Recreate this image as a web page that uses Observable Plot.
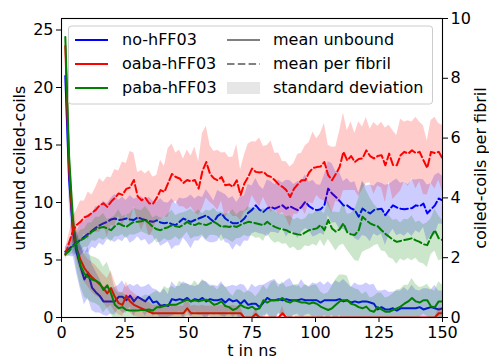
<!DOCTYPE html>
<html><head><meta charset="utf-8">
<script src="https://cdn.jsdelivr.net/npm/d3@7"></script>
<script src="https://cdn.jsdelivr.net/npm/@observablehq/plot@0.6"></script>
<style>
body{margin:0;background:#fff;}
#wrap{position:relative;width:489px;height:360px;font-family:"DejaVu Sans",sans-serif;}
#legend{position:absolute;left:0;top:0;pointer-events:none;}
</style></head><body><div id="wrap"></div>
<script>
// sample times (ns)
const times = d3.range(100).map(i => +(1.5 * (i + 1)).toFixed(1));
const systems = ["no-hFF03", "oaba-hFF03", "paba-hFF03"];
const colors = ["#0000ff", "#ff0000", "#008000"];
const xTicks = [0, 25, 50, 75, 100, 125, 150];
const leftTicks = [0, 5, 10, 15, 20, 25];
const rightTicks = [0, 2, 4, 6, 8, 10];
const leftMax = 26, rightMax = 10;

// unbound coiled-coils (left axis)
const noUnbound = [
21,12,7.5,5.6,4.4,3.3,3.9,2.6,2.2,1.9,
1.4,1.4,1.4,1.4,1.8,1.8,1.5,1.9,1.4,1.8,
1.6,1.4,1.8,1.3,1.4,1.0,1.1,1.0,1.6,1.5,
1.6,1.5,1.7,1.4,1.6,1.5,1.7,1.4,1.6,1.5,
1.5,1.6,1.3,1.6,1.4,1.5,1.2,1.5,1.1,1.2,
1.2,0.9,1.3,1.7,1.5,1.5,1.6,1.5,1.6,1.5,
1.5,1.5,1.6,1.5,1.5,1.5,1.5,1.3,1.5,1.5,
1.5,1.5,1.6,1.4,1.5,1.3,1.4,1.3,1.4,1.4,
1.3,1.2,0.7,0.9,0.7,0.7,0.8,0.6,0.8,0.8,
0.8,0.8,0.8,0.9,0.7,0.8,0.9,0.8,0.7,0.8];
const noUnboundSd = [
1.0,2.0,2.0,1.8,2.0,2.2,2.2,2.0,1.8,1.5,
1.2,1.3,1.1,1.2,1.0,1.4,1.1,1.0,1.3,1.1,
1.0,1.3,1.1,1.2,1.0,1.1,1.4,1.0,1.5,1.2,
1.1,1.6,1.2,1.4,1.1,1.3,1.5,1.7,1.2,1.3,
1.2,1.5,1.3,1.1,1.4,1.2,1.7,1.3,1.2,1.7,
1.4,1.9,1.5,1.3,1.7,1.8,1.3,1.4,1.6,1.9,
1.3,1.2,1.7,1.3,1.2,1.5,1.4,1.8,1.3,1.6,
1.3,1.7,1.4,1.9,1.5,1.3,1.6,1.5,1.4,1.6,
1.5,1.7,1.6,1.4,1.7,1.5,1.4,1.7,1.5,1.8,
1.5,2.0,1.6,1.4,1.8,1.7,1.5,2.0,1.6,1.5];
const oabaUnbound = [
23.6,13,7.8,6.0,5.0,4.3,3.85,3.5,3.2,2.9,
2.55,2.1,2.55,1.8,1.25,1.1,1.9,1.4,1.1,0.95,
0.8,0.65,0.5,0.37,0.37,0.37,0.37,0.37,0.37,0.37,
0.37,0.37,0.8,0.37,0.37,0.37,0.37,0.37,0.37,0.37,
0.37,0.37,0.37,0.37,0.37,0.37,0.37,0,0,0,
0.3,0,0,0,0,0,0,0.37,0,0,
0,0,0,0,0,0,0,0,0,0,
0,0,0,0,0,0,0,0,0,0,
0,0,0,0,0,0,0,0,0,0,
0,0,0,0,0,0,0,0,0.37,0.37];
const oabaUnboundSd = [
0.8,1.0,1.2,1.0,1.1,1.2,1.2,1.3,1.3,1.2,
1.2,1.3,1.5,1.3,1.0,1.0,1.2,1.0,1.0,0.9,
0.8,0.9,0.8,0.7,0.7,0.8,0.7,0.6,0.7,0.6,
0.6,0.6,0.9,0.6,0.7,0.6,0.7,0.6,0.6,0.6,
0.6,0.7,0.6,0.6,0.7,0.6,0.6,0,0,0,
0.5,0,0,0,0,0,0,0.6,0,0,
0,0,0,0,0,0,0,0,0,0,
0,0,0,0,0,0,0,0,0,0,
0,0,0,0,0,0,0,0,0,0,
0,0,0,0,0,0,0,0,0.5,0.5];
const pabaUnbound = [
24.4,14,8.5,6.0,4.5,3.8,3.5,3.3,3.2,3.0,
2.4,2.8,2.1,1.1,0.8,0.9,0.65,0.6,0.6,0.6,
0.65,0.65,0.7,0.6,0.9,0.9,1.0,1.1,1.1,1.1,
1.25,1.4,1.55,1.4,1.5,1.4,1.5,1.55,1.4,1.1,
1.2,1.4,1.0,0.9,0.65,0.8,1.1,0.9,0.8,0.95,
0.7,0.8,1.5,1.3,1.5,1.5,1.5,1.7,1.4,1.3,
1.5,1.4,1.3,1.3,1.2,1.3,1.2,0.95,0.8,0.65,
0.8,1.1,1.4,1.5,1.5,1.2,1.1,0.9,0.8,0.95,
0.6,0.5,0.9,0.7,0.5,0.5,0.65,0.8,0.95,1.2,
1.4,1.7,1.4,1.3,1.5,1.5,0.95,0.9,1.4,1.4];
const pabaUnboundSd = [
0.8,1.5,2.0,1.8,1.8,2.0,2.0,2.0,2.0,2.0,
2.0,2.0,1.8,1.4,1.3,1.3,1.2,1.1,1.2,1.1,
1.1,1.3,1.2,1.5,1.4,1.2,1.7,1.4,1.6,1.4,
1.9,1.5,1.4,1.3,1.7,1.4,1.8,1.5,1.3,1.6,
1.2,1.5,1.7,1.3,1.2,1.6,1.3,1.2,1.5,1.2,
1.1,1.4,1.3,1.1,1.5,1.7,1.1,1.4,1.2,1.4,
1.3,1.5,1.2,1.6,1.4,1.5,1.6,1.3,1.2,1.5,
1.9,2.2,2.3,2.2,2.1,1.5,1.4,1.5,1.2,1.3,
1.1,1.3,1.2,1.4,1.2,1.3,1.4,1.6,1.5,1.6,
1.4,1.7,1.5,1.3,1.2,1.4,1.5,1.4,1.7,1.4];

// coiled-coils per fibril (right axis)
const noFibril = [
2.2,2.3,2.42,2.5,2.6,2.7,2.8,2.9,3.0,3.08,
3.15,3.2,3.28,3.31,3.26,3.28,3.31,3.28,3.26,3.35,
3.3,3.26,3.22,3.2,3.25,3.18,3.15,3.18,3.12,3.09,
3.2,3.31,3.25,3.2,3.26,3.31,3.36,3.42,3.3,3.2,
3.4,3.48,3.31,3.22,3.15,3.15,3.2,3.31,3.5,3.6,
3.75,3.6,3.53,3.65,3.7,3.64,3.7,3.75,3.64,3.72,
3.65,3.59,3.7,3.87,3.72,3.64,3.59,3.62,3.75,4.31,
4.15,4.03,3.9,3.75,3.75,3.65,3.59,3.37,3.64,3.55,
3.48,3.59,3.62,3.64,3.42,3.6,3.75,3.68,3.64,3.62,
3.64,3.66,3.75,3.72,3.81,3.48,3.62,3.75,3.98,3.92];
const noFibrilSd = [
0.15,0.25,0.4,0.35,0.55,0.5,0.65,0.55,0.7,0.6,
0.75,0.6,0.7,0.8,0.65,0.75,0.6,0.8,0.7,0.65,
0.75,0.65,0.8,0.7,0.6,0.8,0.7,0.65,0.85,0.7,
0.8,0.65,0.75,0.9,0.7,0.75,0.65,0.85,0.8,0.7,
0.85,0.7,0.8,0.75,0.9,0.7,0.85,0.75,0.95,0.8,
0.9,0.8,0.75,0.95,0.85,0.8,0.9,0.75,0.95,0.85,
0.8,0.95,0.85,0.9,0.8,0.95,0.85,0.8,1.0,0.9,
1.0,0.85,0.95,0.8,0.9,0.85,0.95,0.8,0.9,0.85,
0.95,0.8,0.9,0.85,1.0,0.85,0.8,0.95,0.85,0.9,
0.8,0.95,0.85,0.9,0.8,0.95,0.85,1.0,0.85,0.8];
const oabaFibril = [
2.1,2.5,2.9,3.1,3.2,3.35,3.4,3.5,3.6,3.75,
3.82,3.7,3.87,4.0,4.15,4.1,4.3,4.35,4.6,4.05,
3.92,4.0,3.82,3.8,4.0,4.26,4.2,4.5,4.8,4.7,
4.65,4.5,4.6,4.55,4.6,4.31,4.9,5.2,4.8,4.65,
4.59,4.7,4.42,4.45,4.37,4.59,4.09,4.48,4.7,4.98,
4.87,4.85,4.87,4.75,4.7,4.59,4.45,4.37,4.26,4.03,
4.3,4.45,4.59,4.59,4.85,5.0,5.03,5.05,5.2,4.76,
4.59,4.8,5.03,5.54,5.25,5.4,5.2,5.3,5.32,5.59,
5.4,5.32,5.4,5.43,5.09,5.48,5.1,5.09,5.43,5.54,
5.48,5.59,5.5,5.54,5.26,5.0,5.54,5.5,5.54,5.32];
const oabaFibrilSd = [
0.15,0.3,0.45,0.5,0.7,0.55,0.8,0.6,0.75,0.9,
0.7,1.0,0.8,0.95,0.75,1.1,0.85,1.2,0.9,0.8,
1.0,0.8,1.1,0.9,0.75,1.0,0.85,1.15,1.0,0.8,
0.95,0.8,1.0,0.85,1.1,0.9,1.25,1.2,0.95,0.9,
1.0,0.8,1.1,0.9,1.0,1.2,0.85,0.95,1.1,0.9,
1.0,1.15,0.85,1.0,1.2,0.9,1.05,0.85,0.95,1.0,
0.85,1.0,0.9,1.15,1.0,1.2,0.95,1.1,1.3,1.0,
1.1,0.9,1.2,1.3,1.0,1.15,0.95,1.25,1.05,1.1,
0.9,1.2,1.0,1.1,1.25,0.95,1.15,1.0,1.2,1.0,
1.1,0.95,1.2,1.0,1.15,0.9,1.05,1.2,0.95,1.1];
const pabaFibril = [
2.12,2.22,2.38,2.5,2.58,2.65,2.75,2.87,2.95,3.0,
3.03,2.98,2.92,3.05,3.15,3.08,3.03,3.12,3.2,3.2,
3.22,3.26,3.15,3.03,2.95,2.92,2.98,3.02,3.09,3.05,
3.03,3.1,3.2,3.12,3.09,3.15,3.12,3.09,3.15,3.2,
3.12,3.03,3.05,3.03,3.06,3.03,3.1,3.15,3.2,3.18,
3.15,3.12,3.09,3.2,3.1,3.03,2.98,2.95,2.92,2.85,
2.81,2.78,2.76,2.85,2.92,2.95,2.98,3.09,2.92,3.26,
2.98,2.87,2.95,3.15,2.85,2.78,2.76,2.92,3.37,3.25,
3.15,3.09,3.05,2.92,2.8,2.7,2.6,2.53,2.56,2.59,
2.62,2.65,2.58,2.53,2.45,2.42,2.7,2.92,2.65,2.59];
const pabaFibrilSd = [
0.1,0.15,0.25,0.2,0.35,0.3,0.4,0.3,0.4,0.35,
0.45,0.3,0.4,0.35,0.45,0.3,0.4,0.35,0.45,0.4,
0.35,0.45,0.4,0.3,0.45,0.4,0.35,0.45,0.5,0.35,
0.45,0.4,0.35,0.5,0.4,0.45,0.35,0.5,0.4,0.45,
0.4,0.5,0.4,0.45,0.55,0.4,0.45,0.4,0.5,0.45,
0.5,0.45,0.55,0.4,0.5,0.55,0.45,0.5,0.45,0.55,
0.45,0.55,0.5,0.45,0.55,0.5,0.6,0.5,0.55,0.65,
0.55,0.65,0.55,0.7,0.6,0.7,0.85,1.05,1.2,1.0,
0.85,0.7,0.6,0.7,0.6,0.7,0.65,0.75,0.6,0.7,
0.65,0.75,0.6,0.7,0.65,0.75,0.6,0.7,0.75,0.65];

const unboundMeans = [noUnbound, oabaUnbound, pabaUnbound];
const unboundSds = [noUnboundSd, oabaUnboundSd, pabaUnboundSd];
const fibrilMeans = [noFibril, oabaFibril, pabaFibril];
const fibrilSds = [noFibrilSd, oabaFibrilSd, pabaFibrilSd];
const k = leftMax / rightMax; // right-axis values mapped onto the left scale

function rows(means, sds, f) {
  return times.map((t, i) => ({t, m: means[i] * f, lo: (means[i] - sds[i]) * f, hi: (means[i] + sds[i]) * f}));
}

const marks = [];
systems.forEach((s, j) => {
  const d = rows(unboundMeans[j], unboundSds[j], 1);
  marks.push(Plot.areaY(d, {x: "t", y1: "lo", y2: "hi", fill: colors[j], fillOpacity: 0.2, clip: true}));
  marks.push(Plot.lineY(d, {x: "t", y: "m", stroke: colors[j], strokeWidth: 2, clip: true}));
});
systems.forEach((s, j) => {
  const d = rows(fibrilMeans[j], fibrilSds[j], k);
  marks.push(Plot.areaY(d, {x: "t", y1: "lo", y2: "hi", fill: colors[j], fillOpacity: 0.2, clip: true}));
  marks.push(Plot.lineY(d, {x: "t", y: "m", stroke: colors[j], strokeWidth: 2, strokeDasharray: "7.5,3.3", clip: true}));
});

const chart = Plot.plot({
  width: 489, height: 360,
  marginLeft: 61, marginRight: 47, marginTop: 18, marginBottom: 43,
  style: {fontFamily: "DejaVu Sans", fontSize: "16px", background: "white", color: "black"},
  x: {domain: [0, 150]},
  y: {domain: [0, leftMax]},
  marks: [
    ...marks,
    Plot.axisX({ticks: xTicks, tickSize: 5, tickPadding: 4.5, label: "t in ns", labelAnchor: "center", labelArrow: "none", labelOffset: 38.5}),
    Plot.axisY({anchor: "left", ticks: leftTicks, tickSize: 5, tickPadding: 3, label: "unbound coiled-coils", labelAnchor: "center", labelArrow: "none", labelOffset: 47.5}),
    Plot.axisY({anchor: "right", ticks: rightTicks.map(v => v * k), tickFormat: v => String(Math.round(v / k)), tickSize: 5, tickPadding: 3, label: "coiled-coils per fibril", labelAnchor: "center", labelArrow: "none", labelOffset: 43}),
    Plot.frame({stroke: "black", strokeWidth: 1.1})
  ]
});
const wrap = document.getElementById("wrap");
wrap.appendChild(chart);

// legend drawn over the plot area (as in the reference)
const legendLines = ["mean unbound", "mean per fibril", "standard deviation"];
const lg = d3.select(wrap).append("svg").attr("id", "legend").attr("width", 489).attr("height", 360)
  .attr("font-family", "DejaVu Sans").attr("font-size", 16);
lg.append("rect").attr("x", 68.5).attr("y", 26).attr("width", 364).attr("height", 78).attr("rx", 3)
  .attr("fill", "white").attr("fill-opacity", 0.8).attr("stroke", "#cccccc");
const rowY = [40, 64, 88];
systems.forEach((s, j) => {
  lg.append("line").attr("x1", 75).attr("x2", 108).attr("y1", rowY[j]).attr("y2", rowY[j])
    .attr("stroke", colors[j]).attr("stroke-width", 2);
  lg.append("text").attr("x", 122).attr("y", rowY[j] + 5).text(s);
});
lg.append("line").attr("x1", 227).attr("x2", 260).attr("y1", rowY[0]).attr("y2", rowY[0]).attr("stroke", "#808080").attr("stroke-width", 2);
lg.append("line").attr("x1", 227).attr("x2", 260).attr("y1", rowY[1]).attr("y2", rowY[1]).attr("stroke", "#808080").attr("stroke-width", 2).attr("stroke-dasharray", "7.5,3.3");
lg.append("rect").attr("x", 227).attr("y", rowY[2] - 6).attr("width", 33).attr("height", 12).attr("fill", "#808080").attr("fill-opacity", 0.2);
legendLines.forEach((s, j) => {
  lg.append("text").attr("x", 273).attr("y", rowY[j] + 5).text(s);
});
</script></body></html>
